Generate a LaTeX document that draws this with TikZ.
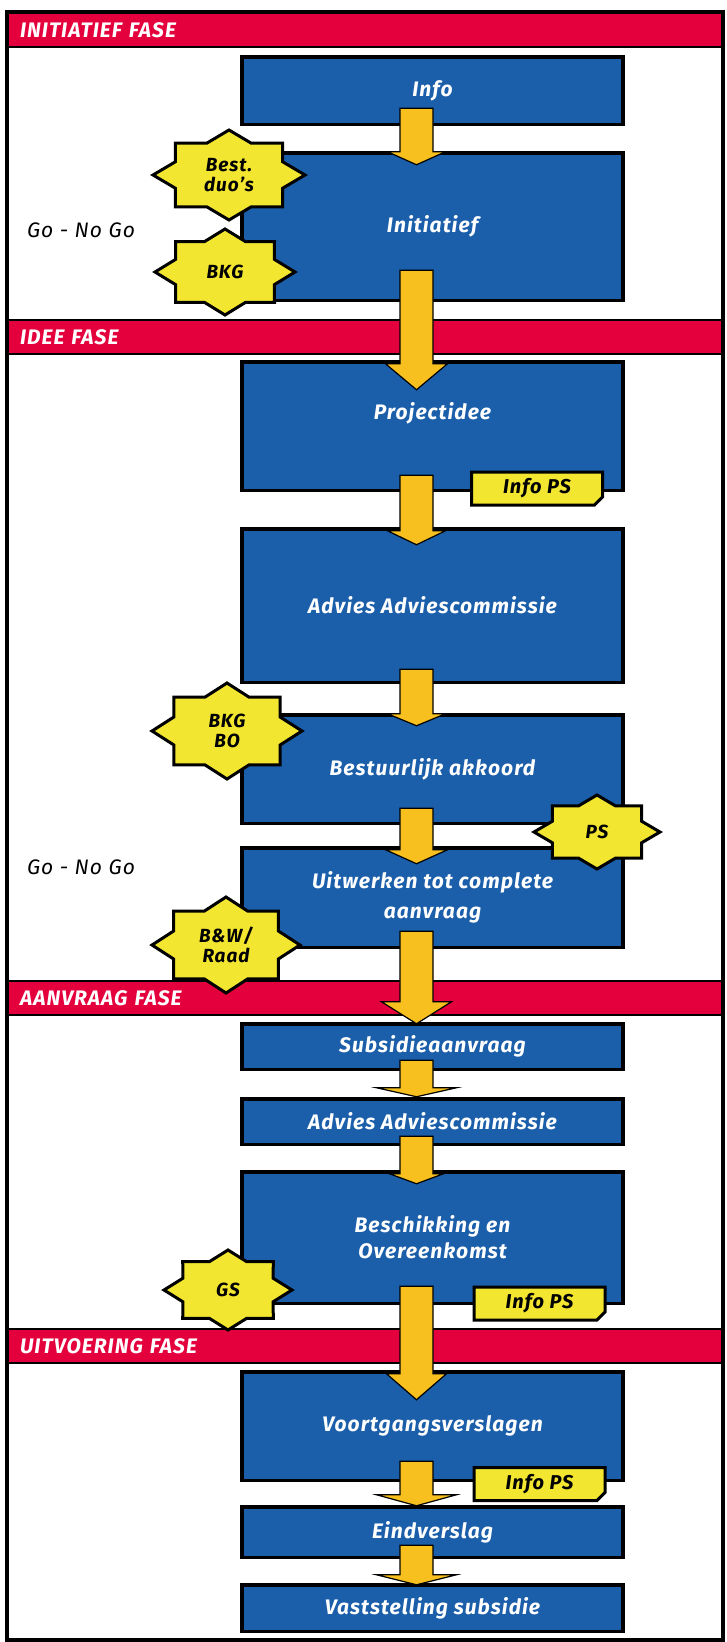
\documentclass[tikz,border=0pt]{standalone}
\usepackage{fontspec}
\setmainfont{Fira Sans}[LetterSpace=5]
\usetikzlibrary{calc,shapes.misc}

\definecolor{stapblauw}{RGB}{27,94,170}
\definecolor{faserood}{RGB}{228,0,60}
\definecolor{pijlgoud}{RGB}{247,192,30}
\definecolor{stergeel}{RGB}{243,230,48}

% star badge: name, position, x radius, y radius, text
\newcommand\sterretje[5]{%
  \coordinate (#1) at (#2);
  \draw[sterlijn] ($(#1)+(0:#3 and #4)$)
    \foreach \k in {1,...,15}{ -- ($(#1)+({\k*22.5}:{#3*(1-0.235*mod(\k,2))} and {#4*(1-0.235*mod(\k,2))})$)} -- cycle;
  \node[stertekst] (#1-t) at (#1) {#5};}

\begin{document}
\begin{tikzpicture}[x=1pt, y=-1pt,
    every node/.style={font=\fontsize{21}{30}\selectfont\bfseries\itshape, outer sep=0pt},
    stap/.style={rectangle, draw=black, line width=3.5pt, fill=stapblauw,
                 text=white, minimum width=381pt, align=center},
    fase/.style={rectangle, draw=black, line width=1.5pt, fill=faserood, text=white,
                 anchor=north west, minimum width=716pt, minimum height=34pt,
                 inner xsep=13pt, text width=690pt, align=left},
    flow/.style={draw=black, line width=1.2pt, fill=pijlgoud, line join=miter},
    sterlijn/.style={draw=black, line width=3pt, fill=stergeel, line join=miter},
    stertekst/.style={text=black, align=center, inner sep=0pt,
                      font=\fontsize{19}{20}\selectfont\bfseries\itshape},
    infops/.style={chamfered rectangle, chamfered rectangle corners=south east,
                   chamfered rectangle sep=4pt, draw=black, line width=3pt, fill=stergeel,
                   minimum width=131pt, minimum height=33pt, inner sep=0pt,
                   font=\fontsize{20}{20}\selectfont\bfseries\itshape},
    gonogo/.style={text=black, font=\fontsize{21}{24}\selectfont\itshape}]

  \useasboundingbox (0,0) rectangle (726,1642);
  \fill[white] (0,0) rectangle (726,1642);

  % fase banden
  \node[fase] (initiatief) at (7,13) {INITIATIEF FASE};
  \node[fase] (idee) at (7,320) {IDEE FASE};
  \node[fase] (aanvraag) at (7,981) {AANVRAAG FASE};
  \node[fase] (uitvoering) at (7,1329) {UITVOERING FASE};

  % stappen
  \node[stap, minimum height=67.5pt] (info) at (432.5,90.5) {Info};
  \node[stap, minimum height=147.5pt] (init) at (432.5,226.5) {Initiatief};
  \node[stap, minimum height=128.5pt] (proj) at (432.5,426) {\raisebox{7pt}[0pt][0pt]{Projectidee}};
  \node[stap, minimum height=153.5pt] (adv1) at (432.5,605.5) {Advies Adviescommissie};
  \node[stap, minimum height=108.5pt] (bestuur) at (432.5,769) {Bestuurlijk akkoord};
  \node[stap, minimum height=99.5pt] (uitw) at (432.5,897.5) {Uitwerken tot complete\\aanvraag};
  \node[stap, minimum height=45.5pt] (subs) at (432.5,1046.5) {Subsidieaanvraag};
  \node[stap, minimum height=45.5pt] (adv2) at (432.5,1121.5) {Advies Adviescommissie};
  \node[stap, minimum height=131.5pt, font=\fontsize{21}{26}\selectfont\bfseries\itshape] (besch) at (432.5,1237.5) {Beschikking en\\Overeenkomst};
  \node[stap, minimum height=108.5pt] (voort) at (432.5,1426) {Voortgangsverslagen};
  \node[stap, minimum height=50.5pt] (eind) at (432.5,1532) {Eindverslag};
  \node[stap, minimum height=46.5pt] (vast) at (432.5,1608) {Vaststelling subsidie};

  % pijlen
  \foreach \a/\b/\s/\t/\w/\l in {info/init/16/12/29/13, init/proj/30/28/31/26,
      proj/adv1/15/16/29/14, adv1/bestuur/13/11/29/12, bestuur/uitw/15/16/31/14,
      uitw/subs/16/0/35/22, subs/adv2/9/-2/40/9, adv2/besch/8/12/27/10,
      besch/voort/17/28/30/26, voort/eind/19/-1/40/11, eind/vast/12/0/40/10} {
    \draw[flow] let \p1=($(\a.south)+(-16,-\s)$), \p2=($(\b.north)+(-16,\t)$) in
      (\x1-16.5pt,\y1) -- (\x1+16.5pt,\y1) -- (\x1+16.5pt,\y2+\l*1pt)
      -- (\x1+\w*1pt,\y2+\l*1pt) -- (\x2,\y2) -- (\x1-\w*1pt,\y2+\l*1pt)
      -- (\x1-16.5pt,\y2+\l*1pt) -- cycle;
  }

  % besluitvorming
  \sterretje{bestduo}{229,175}{76}{45}{Best.\\duo's}
  \sterretje{bkg}{225,272}{70}{43}{BKG}
  \sterretje{bkgbo}{227,731}{75}{48}{BKG\\BO}
  \sterretje{ps}{597,832}{63}{37}{PS}
  \sterretje{bwraad}{226,945}{74}{48}{B\&W/\\Raad}
  \sterretje{gs}{228,1290}{64}{40}{GS}

  \node[infops] (infops1) at (537,488.5) {Info PS};
  \node[infops] (infops2) at (539.5,1303.5) {Info PS};
  \node[infops] (infops3) at (539.5,1484) {Info PS};

  \node[gonogo] (go1) at (81,230) {Go - No Go};
  \node[gonogo] (go2) at (81,867) {Go - No Go};

  \draw[line width=4pt] (7,12) rectangle (723,1640);
\end{tikzpicture}
\end{document}
